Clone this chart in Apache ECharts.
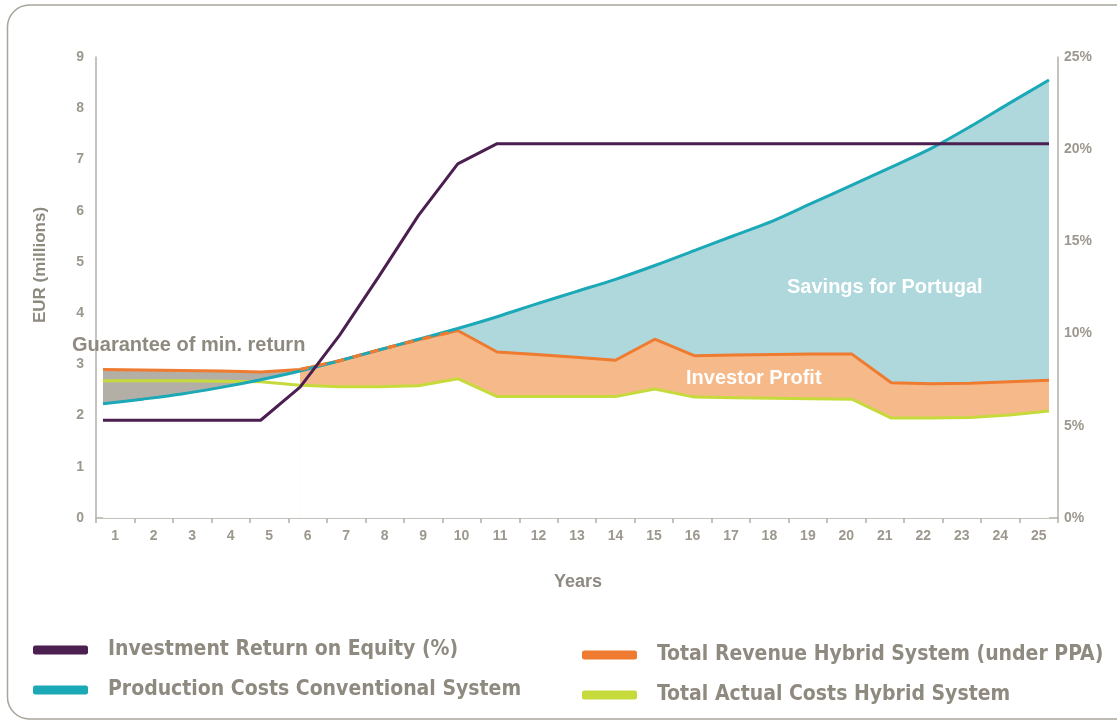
<!DOCTYPE html>
<html>
<head>
<meta charset="utf-8">
<script src="https://cdn.jsdelivr.net/npm/echarts@6/dist/echarts.min.js"></script>
<style>
html,body{margin:0;padding:0;background:#fff;}
#chart{width:1117px;height:724px;}
</style>
</head>
<body>
<div id="chart"></div>
<script>
// ---- data ----
const years = [1,2,3,4,5,6,7,8,9,10,11,12,13,14,15,16,17,18,19,20,21,22,23,24,25];
const yearLabels = years.map(String);
// Investment Return on Equity (%) - right axis
const roe = [5.3,5.3,5.3,5.3,5.3,7.1,9.9,13.1,16.4,19.2,20.3,20.3,20.3,20.3,20.3,20.3,20.3,20.3,20.3,20.3,20.3,20.3,20.3,20.3,20.3];
// Production Costs Conventional System (EUR millions)
const prodCosts = [2.23,2.32,2.42,2.55,2.70,2.87,3.07,3.28,3.49,3.70,3.93,4.18,4.42,4.66,4.93,5.22,5.51,5.80,6.15,6.50,6.85,7.21,7.64,8.10,8.55];
// Total Revenue Hybrid System (under PPA)
const revenue = [2.90,2.89,2.88,2.87,2.85,2.90,3.07,3.28,3.48,3.66,3.24,3.19,3.14,3.08,3.49,3.17,3.18,3.19,3.20,3.20,2.64,2.62,2.63,2.66,2.69];
// Total Actual Costs Hybrid System
const actualCosts = [2.68,2.68,2.68,2.67,2.66,2.59,2.56,2.56,2.58,2.72,2.37,2.37,2.37,2.37,2.52,2.36,2.35,2.34,2.33,2.32,1.95,1.95,1.96,2.01,2.09];
const leftTicks = [0,1,2,3,4,5,6,7,8,9];
const rightTicks = ['0%','5%','10%','15%','20%','25%'];

// ---- helpers ----
const pairs = (arr, from, to) => arr.slice(from - 1, to).map((v, k) => [years[from - 1 + k], v]);

const C = {
  purple: '#4b1f4f', teal: '#1ba8b7', blueFill: '#aed8dc',
  orange: '#ee7b2f', peach: '#f6b98a', green: '#c6da3c',
  grey: '#b3afa7', text: '#8f8a80', axis: '#b3afa8', tick: '#9d988e'
};
const FONT = "'Liberation Sans', Arial, sans-serif";
const NARROW = "'Liberation Sans Narrow', 'DejaVu Sans Condensed', 'Liberation Sans', sans-serif";

function fill(name, data, color, z, smooth) {
  return {
    name, type: 'line', xAxisIndex: 1, yAxisIndex: 0, data,
    showSymbol: false, silent: true, z, smooth: smooth || false,
    lineStyle: { width: 0, opacity: 0 },
    itemStyle: { color },
    areaStyle: { color, opacity: 1, origin: 'start' },
    emphasis: { disabled: true }
  };
}
function line(name, data, color, z, yIdx, extra) {
  return Object.assign({
    name, type: 'line', xAxisIndex: 1, yAxisIndex: yIdx, data,
    showSymbol: false, z,
    itemStyle: { color },
    lineStyle: { color, width: 3 },
    emphasis: { disabled: true }
  }, extra || {});
}

const chart = echarts.init(document.getElementById('chart'));
const legendText = { color: C.text, fontSize: 21, fontWeight: 'bold', fontFamily: NARROW, lineHeight: 30, padding: [0, 0, 0, 15] };
const option = {
  animation: false,
  backgroundColor: '#fff',
  grid: { left: 96, right: 59, top: 57, bottom: 206, containLabel: false },
  xAxis: [
    {
      type: 'category', data: yearLabels, boundaryGap: true, position: 'bottom',
      axisLine: { lineStyle: { color: C.axis, width: 1.5 } },
      axisTick: { show: true, length: 5, lineStyle: { color: C.axis, width: 1.5 } },
      axisLabel: { color: C.tick, fontSize: 14, fontWeight: 'bold', fontFamily: FONT, margin: 11 },
      splitLine: { show: false }
    },
    { type: 'value', show: false, min: 0.8224, max: 25.229 }
  ],
  yAxis: [
    {
      type: 'value', min: 0, max: 9, interval: 1, position: 'left',
      axisLine: { show: true, lineStyle: { color: C.axis, width: 1.5 } },
      axisTick: { show: false },
      axisLabel: { color: C.tick, fontSize: 14, fontWeight: 'bold', fontFamily: FONT, margin: 12,
        formatter: v => String(leftTicks[v]) },
      splitLine: { show: false }
    },
    {
      type: 'value', min: 0, max: 25, interval: 5, position: 'right',
      axisLine: { show: true, lineStyle: { color: C.axis, width: 1.5 } },
      axisTick: { show: false },
      axisLabel: { color: C.tick, fontSize: 14, fontWeight: 'bold', fontFamily: FONT, margin: 6,
        formatter: v => rightTicks[v / 5] },
      splitLine: { show: false }
    }
  ],
  legend: [
    {
      orient: 'vertical', left: 28, top: 630, itemWidth: 55, itemHeight: 9, itemGap: 10,
      icon: 'roundRect', selectedMode: false,
      data: ['Investment Return on Equity (%)', 'Production Costs Conventional System'],
      textStyle: legendText
    },
    {
      orient: 'vertical', left: 577, top: 635, itemWidth: 55, itemHeight: 9, itemGap: 10,
      icon: 'roundRect', selectedMode: false,
      data: ['Total Revenue Hybrid System (under PPA)', 'Total Actual Costs Hybrid System'],
      textStyle: legendText
    }
  ],
  graphic: [
    { type: 'rect', shape: { x: 7.5, y: 5, width: 1250, height: 714, r: 22 },
      style: { fill: 'none', stroke: '#a9a49c', lineWidth: 1.5 }, silent: true, z: -10 },
    { type: 'text', x: 40, y: 265, rotation: Math.PI / 2,
      style: { text: 'EUR (millions)', fill: C.text, font: "bold 17px " + FONT, textAlign: 'center', textVerticalAlign: 'middle' } },
    { type: 'text', x: 578, y: 582,
      style: { text: 'Years', fill: C.text, font: "bold 18px " + FONT, textAlign: 'center', textVerticalAlign: 'middle' } },
    { type: 'text', x: 72, y: 345, z: 100,
      style: { text: 'Guarantee of min. return', fill: C.text, font: "bold 20px " + FONT, textAlign: 'left', textVerticalAlign: 'middle' } },
    { type: 'text', x: 787, y: 287, z: 100,
      style: { text: 'Savings for Portugal', fill: '#ffffff', font: "bold 20px " + FONT, textAlign: 'left', textVerticalAlign: 'middle' } },
    { type: 'text', x: 686, y: 378, z: 100,
      style: { text: 'Investor Profit', fill: '#ffffff', font: "bold 20px " + FONT, textAlign: 'left', textVerticalAlign: 'middle' } }
  ],
  series: [
    fill('fillSavings', pairs(prodCosts, 1, 25), C.blueFill, 1, 0.3),
    fill('fillProfit', pairs(revenue, 1, 25), C.peach, 2),
    fill('fillGuarantee', pairs(revenue, 1, 6), C.grey, 3),
    fill('whiteUnderCosts', pairs(prodCosts, 1, 6), '#ffffff', 4, 0.3),
    fill('whiteUnderActual', pairs(actualCosts, 6, 25), '#ffffff', 5),
    line('Total Actual Costs Hybrid System', pairs(actualCosts, 1, 25), C.green, 10, 0),
    line('Total Revenue Hybrid System (under PPA)', pairs(revenue, 1, 25), C.orange, 11, 0),
    line('Production Costs Conventional System', pairs(prodCosts, 1, 25), C.teal, 12, 0, { smooth: 0.3 }),
    line('revenueOverlap', pairs(revenue, 6, 10), C.orange, 13, 0, { silent: true, lineStyle: { color: C.orange, width: 3, type: [9, 9] } }),
    line('Investment Return on Equity (%)', pairs(roe, 1, 25), C.purple, 14, 1)
  ]
};
chart.setOption(option);
</script>
</body>
</html>
